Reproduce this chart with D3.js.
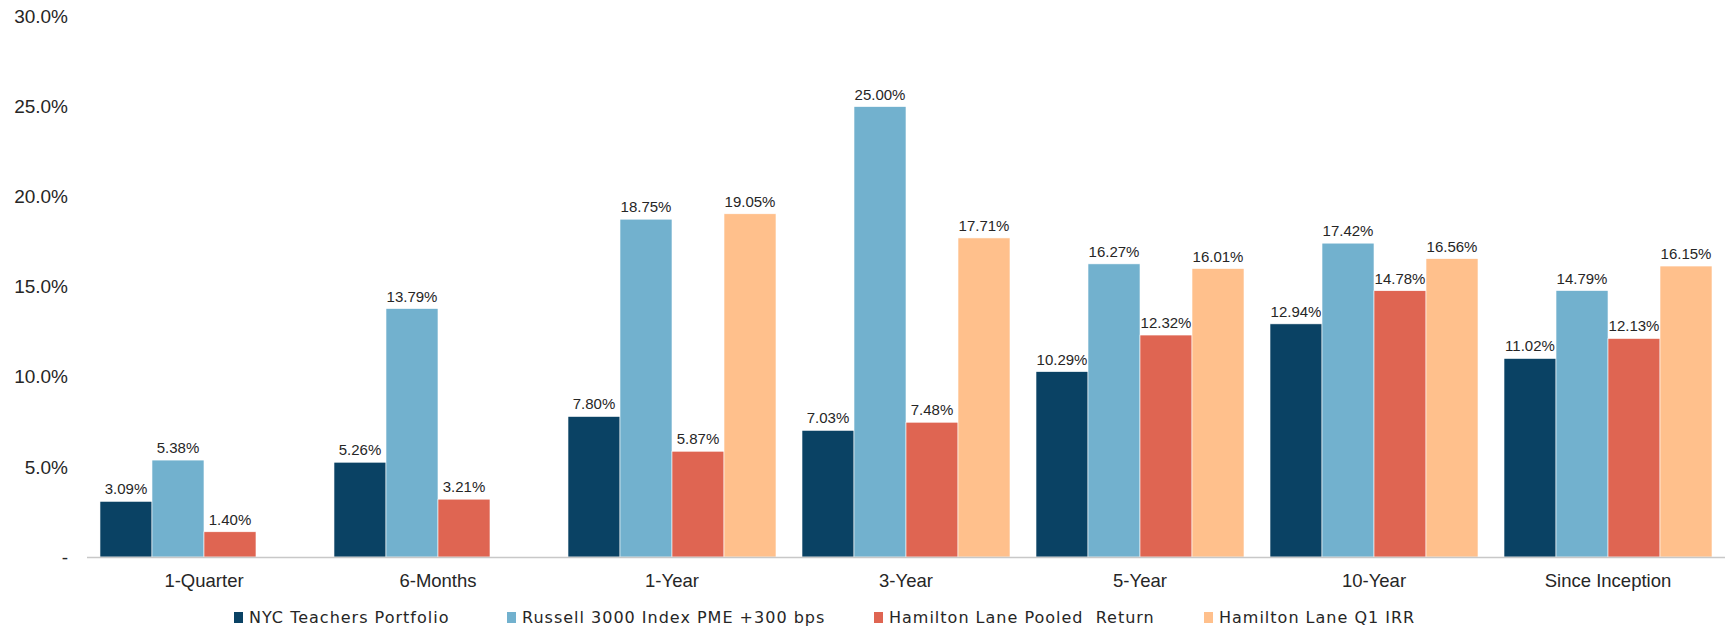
<!DOCTYPE html>
<html>
<head>
<meta charset="utf-8">
<script src="https://cdn.jsdelivr.net/npm/d3@7"></script>
<style>
  html, body { margin: 0; padding: 0; background: #ffffff; }
  svg { display: block; }
  text { font-family: "Liberation Sans", Arial, sans-serif; fill: #262626; }
</style>
</head>
<body>
<svg id="chart" width="1733" height="631"></svg>
<script>
const categories = ["1-Quarter", "6-Months", "1-Year", "3-Year", "5-Year", "10-Year", "Since Inception"];
const seriesNames = ["NYC Teachers Portfolio", "Russell 3000 Index PME +300 bps", "Hamilton Lane Pooled  Return", "Hamilton Lane Q1 IRR"];
const nycTeachers = [3.09, 5.26, 7.80, 7.03, 10.29, 12.94, 11.02];
const russellPME = [5.38, 13.79, 18.75, 25.00, 16.27, 17.42, 14.79];
const hlPooled = [1.40, 3.21, 5.87, 7.48, 12.32, 14.78, 12.13];
const hlQ1IRR = [null, null, 19.05, 17.71, 16.01, 16.56, 16.15];
const yTicks = [0, 5, 10, 15, 20, 25, 30];
const colors = ["#0A4264", "#72B1CE", "#DF6552", "#FFC08C"];

const seriesValues = [nycTeachers, russellPME, hlPooled, hlQ1IRR];

const svg = d3.select("#chart");
const plotLeft = 87, plotRight = 1725, plotTop = 16.5, plotBottom = 557;

const x0 = d3.scaleBand().domain(categories).range([plotLeft, plotRight])
  .paddingInner(26 / 234).paddingOuter(0.0555);
const x1 = d3.scaleBand().domain(d3.range(seriesNames.length)).range([0, x0.bandwidth()]).padding(0);
const y = d3.scaleLinear().domain([0, 30]).range([plotBottom, plotTop]);

// y axis labels
const yAxis = d3.axisLeft(y).tickValues(yTicks)
  .tickFormat(d => d === 0 ? "-" : d.toFixed(1) + "%")
  .tickSize(0).tickPadding(0);
const yg = svg.append("g").attr("transform", "translate(68,0)").call(yAxis);
yg.select(".domain").remove();
yg.selectAll("text").attr("font-size", 19).attr("fill", "#262626")
  .style("font-family", '"Liberation Sans", Arial, sans-serif');

// bars
const groups = svg.append("g").selectAll("g").data(categories).join("g")
  .attr("transform", d => `translate(${x0(d)},0)`);

groups.each(function(cat, ci) {
  const g = d3.select(this);
  seriesValues.forEach((vals, si) => {
    const v = vals[ci];
    if (v === null || v === undefined) return;
    g.append("rect")
      .attr("x", x1(si))
      .attr("y", y(v))
      .attr("width", x1.bandwidth())
      .attr("height", y(0) - y(v))
      .attr("fill", colors[si])
      .attr("stroke", "#ffffff")
      .attr("stroke-width", 0.6);
    g.append("text")
      .attr("x", x1(si) + x1.bandwidth() / 2)
      .attr("y", y(v) - 7)
      .attr("text-anchor", "middle")
      .attr("font-size", 15)
      .text(v.toFixed(2) + "%");
  });
});

// x axis line
svg.append("line")
  .attr("x1", plotLeft).attr("x2", plotRight)
  .attr("y1", y(0) + 0.5).attr("y2", y(0) + 0.5)
  .attr("stroke", "#C8C8C8").attr("stroke-width", 1.5);

// x axis labels
const xAxis = d3.axisBottom(x0).tickSize(0).tickPadding(0);
const xg = svg.append("g").attr("transform", "translate(0,587)").call(xAxis);
xg.select(".domain").remove();
xg.selectAll("text").attr("font-size", 18.5).attr("fill", "#262626").attr("dy", "0")
  .style("font-family", '"Liberation Sans", Arial, sans-serif');

// legend
const legendX = [234, 507, 874, 1204];
const legend = svg.append("g").selectAll("g").data(seriesNames).join("g")
  .attr("transform", (d, i) => `translate(${legendX[i]},0)`);
legend.append("rect").attr("x", 0).attr("y", 612).attr("width", 9).attr("height", 11)
  .attr("fill", (d, i) => colors[i]);
legend.append("text").attr("x", 15).attr("y", 623.3).attr("font-size", 16)
  .style("font-family", '"DejaVu Sans", sans-serif')
  .style("letter-spacing", "1px")
  .style("white-space", "pre").attr("xml:space", "preserve")
  .text(d => d);
</script>
</body>
</html>
